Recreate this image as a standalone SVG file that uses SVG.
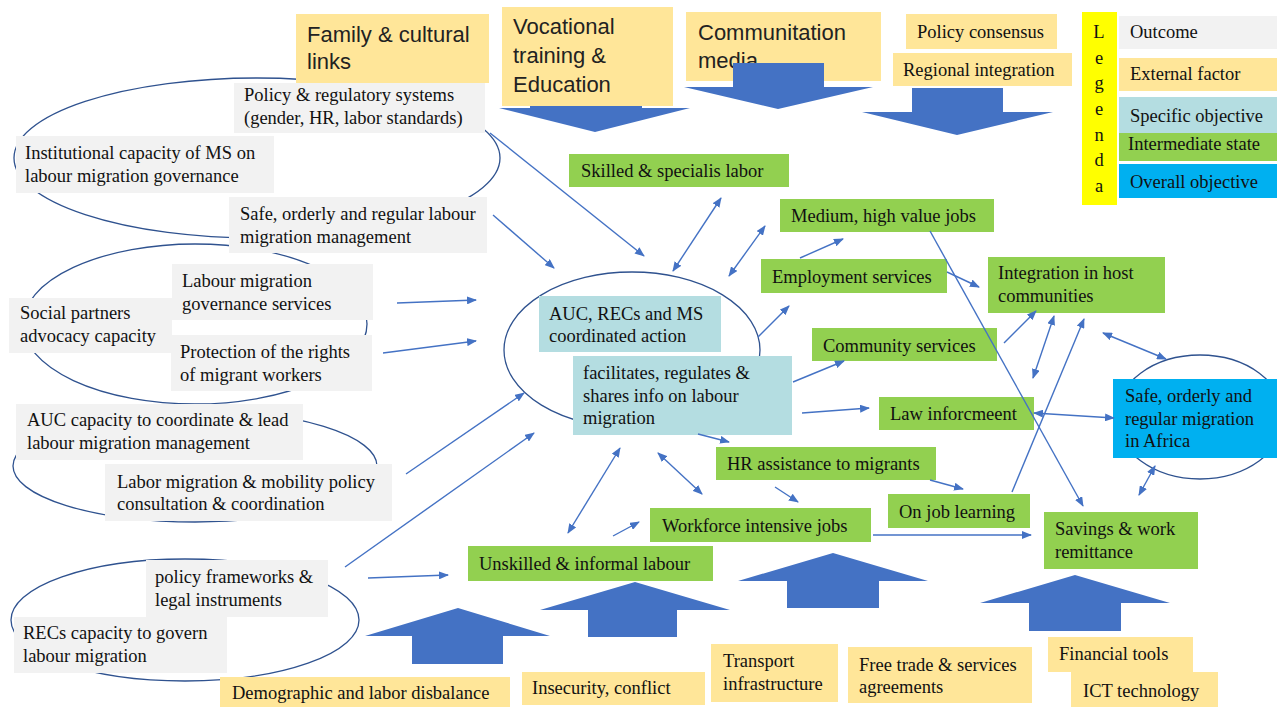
<svg xmlns="http://www.w3.org/2000/svg" width="1277" height="707" viewBox="0 0 1277 707">
<style>
.t{font-family:"Liberation Serif","Times New Roman",serif;font-size:18.5px;fill:#111}
.s{font-family:"Liberation Sans",Arial,sans-serif;font-size:22px;fill:#222}
.out{fill:#f2f2f2}
.ext{fill:#ffe699}
.spec{fill:#b4dde1}
.mid{fill:#92d050}
.ovr{fill:#00b0f0}
.ell{fill:none;stroke:#2f528f;stroke-width:1.3}
.big{fill:#4472c4}
.c{stroke:#4472c4;stroke-width:1.4;fill:none;marker-end:url(#ah)}
.d{stroke:#4472c4;stroke-width:1.4;fill:none;marker-end:url(#ah);marker-start:url(#ah)}
</style>
<defs>
<marker id="ah" markerUnits="userSpaceOnUse" markerWidth="10" markerHeight="8" refX="9" refY="4" orient="auto-start-reverse">
<path d="M0,0 L10,4 L0,8 Z" fill="#4472c4"/>
</marker>
</defs>
<rect width="1277" height="707" fill="#ffffff"/>

<g id="ellipses">
<ellipse class="ell" cx="257" cy="158" rx="243" ry="80"/>
<ellipse class="ell" cx="195" cy="324" rx="172" ry="80"/>
<ellipse class="ell" cx="195" cy="466" rx="182" ry="56"/>
<ellipse class="ell" cx="185" cy="620" rx="174" ry="61"/>
<ellipse class="ell" cx="632" cy="350" rx="128" ry="78"/>
<ellipse class="ell" cx="1200" cy="417" rx="84" ry="62"/>
</g>

<g id="big-arrows-behind">
<polygon class="big" points="530,80 642,80 642,108 690,108 595,132 499,108 530,108"/>
</g>

<g id="n_family"><rect class="ext" x="296" y="14" width="193" height="69"/><text class="s" x="307" y="42">Family &amp; cultural</text><text class="s" x="307" y="69">links</text></g>
<g id="n_voc"><rect class="ext" x="502" y="7" width="171" height="99"/><text class="s" x="513" y="34">Vocational</text><text class="s" x="513" y="63">training &amp;</text><text class="s" x="513" y="92">Education</text></g>
<g id="n_comm"><rect class="ext" x="686" y="12" width="195" height="69"/><text class="s" x="698" y="40">Communitation</text><text class="s" x="698" y="68">media</text></g>
<g id="n_pcons"><rect class="ext" x="906" y="14" width="151" height="35"/><text class="t" x="917" y="38">Policy consensus</text></g>
<g id="n_regint"><rect class="ext" x="893" y="53" width="179" height="33"/><text class="t" x="903" y="76">Regional integration</text></g>

<g id="big-arrows">
<polygon class="big" points="733,63 824,63 824,87 873,87 778,109 684,87 733,87"/>
<polygon class="big" points="912,88 1003,88 1003,112 1053,112 957,135 862,112 912,112"/>
<polygon class="big" points="458,608 550,636 503,636 503,664 412,664 412,636 365,636"/>
<polygon class="big" points="635,582 730,610 677,610 677,637 588,637 588,610 540,610"/>
<polygon class="big" points="833,553 928,581 879,581 879,608 787,608 787,581 738,581"/>
<polygon class="big" points="1075,575 1170,603 1121,603 1121,631 1029,631 1029,603 980,603"/>
</g>

<g id="legend">
<rect x="1082" y="12" width="35" height="193" fill="#ffff00"/>
<text class="t" x="1099" y="38" text-anchor="middle">L</text>
<text class="t" x="1099" y="64" text-anchor="middle">e</text>
<text class="t" x="1099" y="89" text-anchor="middle">g</text>
<text class="t" x="1099" y="115" text-anchor="middle">e</text>
<text class="t" x="1099" y="141" text-anchor="middle">n</text>
<text class="t" x="1099" y="166" text-anchor="middle">d</text>
<text class="t" x="1099" y="192" text-anchor="middle">a</text>
<rect class="out" x="1119" y="16" width="158" height="33"/><text class="t" x="1130" y="38">Outcome</text>
<rect class="ext" x="1119" y="58" width="158" height="33"/><text class="t" x="1130" y="80">External factor</text>
<rect class="spec" x="1119" y="97" width="158" height="36"/><text class="t" x="1130" y="122">Specific objective</text>
<rect class="mid" x="1119" y="133" width="158" height="28"/><text class="t" x="1128" y="150">Intermediate state</text>
<rect class="ovr" x="1119" y="164" width="158" height="34"/><text class="t" x="1130" y="188">Overall objective</text>
</g>

<g id="n_policy_reg"><rect class="out" x="234" y="83" width="251" height="50"/><text class="t" x="244" y="101">Policy &amp; regulatory systems</text><text class="t" x="244" y="124">(gender, HR, labor standards)</text></g>
<g id="n_inst"><rect class="out" x="16" y="136" width="258" height="57"/><text class="t" x="25" y="159">Institutional capacity of MS on</text><text class="t" x="25" y="182">labour migration governance</text></g>
<g id="n_safe_mgmt"><rect class="out" x="229" y="197" width="258" height="56"/><text class="t" x="240" y="220">Safe, orderly and regular labour</text><text class="t" x="240" y="243">migration management</text></g>
<g id="n_lmgs"><rect class="out" x="172" y="264" width="201" height="56"/><text class="t" x="182" y="287">Labour migration</text><text class="t" x="182" y="310">governance services</text></g>
<g id="n_social"><rect class="out" x="9" y="298" width="163" height="55"/><text class="t" x="20" y="319">Social partners</text><text class="t" x="20" y="342">advocacy capacity</text></g>
<g id="n_protect"><rect class="out" x="171" y="335" width="201" height="56"/><text class="t" x="180" y="358">Protection of the rights</text><text class="t" x="180" y="381">of migrant workers</text></g>
<g id="n_auc_cap"><rect class="out" x="16" y="404" width="287" height="56"/><text class="t" x="27" y="426">AUC capacity to coordinate &amp; lead</text><text class="t" x="27" y="449">labour migration management</text></g>
<g id="n_lmmp"><rect class="out" x="105" y="464" width="287" height="57"/><text class="t" x="117" y="488">Labor migration &amp; mobility policy</text><text class="t" x="117" y="510">consultation &amp; coordination</text></g>
<g id="n_pfli"><rect class="out" x="146" y="560" width="182" height="57"/><text class="t" x="155" y="583">policy frameworks &amp;</text><text class="t" x="155" y="606">legal instruments</text></g>
<g id="n_recs"><rect class="out" x="14" y="617" width="213" height="56"/><text class="t" x="23" y="639">RECs capacity to govern</text><text class="t" x="23" y="662">labour migration</text></g>

<g id="n_demo"><rect class="ext" x="220" y="677" width="290" height="30"/><text class="t" x="232" y="699">Demographic and labor disbalance</text></g>
<g id="n_insec"><rect class="ext" x="522" y="672" width="183" height="33"/><text class="t" x="532" y="694">Insecurity, conflict</text></g>
<g id="n_transport"><rect class="ext" x="711" y="644" width="127" height="58"/><text class="t" x="723" y="667">Transport</text><text class="t" x="723" y="690">infrastructure</text></g>
<g id="n_freetrade"><rect class="ext" x="848" y="647" width="184" height="56"/><text class="t" x="859" y="671">Free trade &amp; services</text><text class="t" x="859" y="693">agreements</text></g>
<g id="n_fin"><rect class="ext" x="1048" y="637" width="145" height="35"/><text class="t" x="1059" y="660">Financial tools</text></g>
<g id="n_ict"><rect class="ext" x="1071" y="672" width="147" height="35"/><text class="t" x="1083" y="697">ICT technology</text></g>

<g id="n_skilled"><rect class="mid" x="569" y="154" width="220" height="33"/><text class="t" x="581" y="177">Skilled &amp; specialis labor</text></g>
<g id="n_medium"><rect class="mid" x="780" y="199" width="214" height="33"/><text class="t" x="791" y="222">Medium, high value jobs</text></g>
<g id="n_employ"><rect class="mid" x="761" y="259" width="186" height="34"/><text class="t" x="772" y="283">Employment services</text></g>
<g id="n_integ"><rect class="mid" x="988" y="257" width="177" height="56"/><text class="t" x="998" y="279">Integration in host</text><text class="t" x="998" y="302">communities</text></g>
<g id="n_commsvc"><rect class="mid" x="812" y="328" width="185" height="33"/><text class="t" x="823" y="352">Community services</text></g>
<g id="n_law"><rect class="mid" x="879" y="397" width="155" height="33"/><text class="t" x="890" y="420">Law inforcmeent</text></g>
<g id="n_hr"><rect class="mid" x="716" y="447" width="220" height="33"/><text class="t" x="727" y="470">HR assistance to migrants</text></g>
<g id="n_ojl"><rect class="mid" x="888" y="494" width="142" height="34"/><text class="t" x="899" y="518">On job learning</text></g>
<g id="n_workforce"><rect class="mid" x="650" y="508" width="221" height="34"/><text class="t" x="662" y="532">Workforce intensive jobs</text></g>
<g id="n_unskilled"><rect class="mid" x="468" y="546" width="245" height="35"/><text class="t" x="479" y="570">Unskilled &amp; informal labour</text></g>
<g id="n_savings"><rect class="mid" x="1044" y="512" width="154" height="57"/><text class="t" x="1055" y="535">Savings &amp; work</text><text class="t" x="1055" y="558">remittance</text></g>

<g id="n_auc_rec"><rect class="spec" x="539" y="296" width="182" height="56"/><text class="t" x="549" y="320">AUC, RECs and MS</text><text class="t" x="549" y="342">coordinated action</text></g>
<g id="n_facil"><rect class="spec" x="573" y="356" width="219" height="79"/><text class="t" x="583" y="379">facilitates, regulates &amp;</text><text class="t" x="583" y="402">shares info on labour</text><text class="t" x="583" y="424">migration</text></g>

<g id="n_overall"><rect class="ovr" x="1113" y="379" width="164" height="79"/><text class="t" x="1125" y="402">Safe, orderly and</text><text class="t" x="1125" y="425">regular migration</text><text class="t" x="1125" y="447">in Africa</text></g>

<g id="connectors">
<line class="c" x1="490" y1="133" x2="644" y2="256"/>
<line class="c" x1="493" y1="215" x2="554" y2="268"/>
<line class="c" x1="397" y1="303" x2="476" y2="300"/>
<line class="c" x1="383" y1="353" x2="476" y2="341"/>
<line class="c" x1="406" y1="474" x2="524" y2="393"/>
<line class="c" x1="345" y1="567" x2="534" y2="433"/>
<line class="c" x1="368" y1="578" x2="448" y2="575"/>
<line class="d" x1="673" y1="271" x2="721" y2="198"/>
<line class="d" x1="729" y1="276" x2="765" y2="226"/>
<line class="c" x1="800" y1="258" x2="843" y2="239"/>
<line class="c" x1="758" y1="337" x2="789" y2="306"/>
<line class="c" x1="793" y1="382" x2="844" y2="361"/>
<line class="c" x1="802" y1="413" x2="869" y2="408"/>
<line class="c" x1="698" y1="434" x2="729" y2="442"/>
<line class="c" x1="775" y1="487" x2="798" y2="502"/>
<line class="d" x1="658" y1="453" x2="702" y2="494"/>
<line class="d" x1="620" y1="448" x2="568" y2="533"/>
<line class="c" x1="613" y1="536" x2="639" y2="522"/>
<line class="c" x1="873" y1="535" x2="1031" y2="535"/>
<line class="c" x1="930" y1="480" x2="963" y2="489"/>
<line class="c" x1="947" y1="272" x2="979" y2="287"/>
<line class="c" x1="1004" y1="343" x2="1036" y2="311"/>
<line class="d" x1="1054" y1="316" x2="1033" y2="378"/>
<line class="c" x1="1012" y1="492" x2="1084" y2="319"/>
<line class="c" x1="930" y1="231" x2="1083" y2="506"/>
<line class="d" x1="1103" y1="333" x2="1166" y2="359"/>
<line class="d" x1="1034" y1="413" x2="1114" y2="418"/>
<line class="d" x1="1155" y1="466" x2="1139" y2="495"/>
</g>
</svg>
